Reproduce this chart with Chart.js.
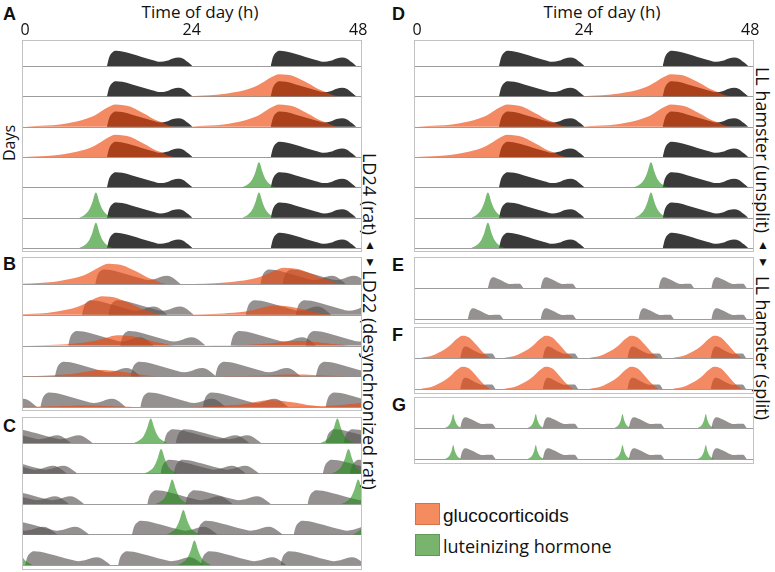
<!DOCTYPE html>
<html lang="en">
<head>
<meta charset="UTF-8">
<title>Actograms: activity, glucocorticoids and LH</title>
<script src="https://cdn.jsdelivr.net/npm/chart.js"></script>
<style>
  body { margin: 0; background: #fff; width: 775px; height: 572px; position: relative; overflow: hidden; font-family: "Open Sans", sans-serif; color: #111; }
  canvas { position: absolute; }
  .letter { position: absolute; font: bold 18px "Liberation Sans", Arial, sans-serif; line-height: 1; }
  .txt { position: absolute; font-size: 17px; line-height: 1; white-space: nowrap; transform: translate(-50%, -50%); }
  .rot { position: absolute; font-size: 18px; line-height: 1; white-space: nowrap; transform: translate(-50%, -50%) rotate(90deg); }
  .rotl { position: absolute; font-size: 16px; line-height: 1; white-space: nowrap; transform: translate(-50%, -50%) rotate(-90deg); }
  .tri { position: absolute; font-size: 12px; line-height: 1; transform: translate(-50%, -50%); }
  .sw { position: absolute; width: 23px; height: 20px; }
  .leg { position: absolute; font-size: 18px; line-height: 1; white-space: nowrap; transform: translateY(-50%); }
</style>
</head>
<body>
<div class="letter" style="left:3px;top:5px">A</div>
<div class="letter" style="left:3px;top:255px">B</div>
<div class="letter" style="left:3px;top:417px">C</div>
<div class="letter" style="left:392px;top:5px">D</div>
<div class="letter" style="left:392px;top:256px">E</div>
<div class="letter" style="left:392px;top:326px">F</div>
<div class="letter" style="left:392px;top:396px">G</div>

<div class="txt" style="left:200px;top:11px">Time of day (h)</div>
<div class="txt" style="left:602px;top:11px">Time of day (h)</div>
<div class="rotl" style="left:9px;top:143px">Days</div>

<div class="rot" style="left:370px;top:194px">LD24 (rat)</div>
<div class="tri" style="left:370px;top:245px">▲</div>
<div class="tri" style="left:370px;top:262px">▼</div>
<div class="rot" style="left:370px;top:380px">LD22 (desynchronized rat)</div>

<div class="rot" style="left:763px;top:150px">LL hamster (unsplit)</div>
<div class="tri" style="left:763px;top:245px">▲</div>
<div class="tri" style="left:763px;top:262px">▼</div>
<div class="rot" style="left:763px;top:348px">LL hamster (split)</div>

<div class="sw" style="left:415px;top:503px;background:#f58c60;border:1px solid #d0734d"></div>
<div class="leg" style="left:443px;top:515px;font-family:'Liberation Sans',Arial,sans-serif;font-size:19px">glucocorticoids</div>
<div class="sw" style="left:415px;top:534px;background:#79b46e;border:1px solid #5e9a55"></div>
<div class="leg" style="left:443px;top:546px">luteinizing hormone</div>

<script>
// time axis in hours (double-plotted, 48 h per row)
const hourMin = -0.45, hourMax = 48.55;
const tickHours = [0, 24, 48];

// curve templates: hours from onset/peak, height as a fraction of one row
const actHrs = [0, 0.3, 0.8, 1.3, 2.2, 3.5, 5.0, 6.5, 7.7, 8.6, 9.5, 10.3, 11.0, 11.7, 12.3];
const actLvl = [0, 0.28, 0.45, 0.5, 0.48, 0.40, 0.30, 0.20, 0.14, 0.17, 0.25, 0.28, 0.24, 0.12, 0];
const gcHrs = [-13, -10, -8, -6.5, -5, -3.6, -2.5, -1.2, 0, 1.2, 2.2, 3.5, 4.6, 5.5, 6.5, 7.5, 8.4];
const gcLvl = [0, 0.05, 0.1, 0.18, 0.28, 0.42, 0.6, 0.85, 1, 0.97, 0.9, 0.7, 0.52, 0.35, 0.22, 0.08, 0];
const lhHrs = [-2.4, -1.6, -1.0, -0.5, -0.15, 0, 0.15, 0.5, 1.0, 1.6, 2.4];
const lhLvl = [0, 0.12, 0.3, 0.62, 0.95, 1, 0.95, 0.62, 0.3, 0.12, 0];
// split hamster: short bouts
const splitActHrs = [0, 0.3, 0.8, 1.6, 2.5, 3.2, 3.8, 4.6, 5.1];
const splitActLvl = [0, 0.25, 0.35, 0.28, 0.18, 0.13, 0.14, 0.14, 0];
const splitGcHrs = [-6, -4, -2, -0.8, 0, 1, 2, 3, 4];
const splitGcLvl = [0, 0.15, 0.5, 0.85, 1, 0.92, 0.6, 0.25, 0];
const splitLhHrs = [-1.2, -0.6, -0.25, 0, 0.25, 0.6, 1.2];
const splitLhLvl = [0, 0.2, 0.55, 1, 0.55, 0.2, 0];

// A and D: LD24 rat / unsplit LL hamster (one list per day, top to bottom)
const unsplitAct = [[11.8, 35.4], [11.8, 35.4], [11.8, 35.4], [11.8, 35.4], [11.8, 35.4], [11.8, 35.4], [11.8, 35.4]];
const unsplitGc = [[], [36.6], [13.0, 36.6], [13.0], [], [], []];
const unsplitLh = [[], [], [], [], [33.7], [10.2, 33.7], [10.2]];
const unsplitGcAmp = 0.73, unsplitLhAmp = 0.83;

// B: LD22 desynchronized rat, glucocorticoids
const desyncAct = [[10.1, 33.9, 37.1], [8.2, 12.0, 31.8, 39.0], [6.2, 13.7, 29.6, 40.4], [4.3, 15.2, 27.4, 41.9], [-10.6, 2.2, 16.6, 25.6, 43.3]];
const desyncGc = [[12.0, 37.3], [11.1, 35.8], [13.3, 38.7], [10.6, 38.0], [8.0, 35.0, 51.0]];
const desyncGcAmp = [[0.66, 0.53], [0.6, 0.3], [0.33, 0.15], [0.2, 0.06], [0.05, 0.22, 0.25]];

// C: LD22 desynchronized rat, LH
const desyncLhAct = [[-5.7, -2.6, 20.0, 21.7, 43.3, 45.9], [-6.3, -4.8, 19.5, 21.4, 42.9, 46.8], [-6.0, -3.8, 17.6, 23.1, 40.7], [-7.7, -3.1, 15.4, 24.8, 38.7], [0.0, 13.4, 25.3, 36.8]];
const desyncLh = [[18.1, 45.0], [19.6, 46.6], [21.2, 48.0], [22.8, 49.6], [-1.3, 24.4]];

// E, F, G: split LL hamster
const splitAct = [[10.2, 17.8, 34.8, 42.4], [7.3, 17.8, 31.9, 42.4]];
const splitGcAct = [[6.2, 18.1, 30.3, 42.3], [6.2, 18.1, 30.3, 42.3]];
const splitGc = [[6.5, 18.5, 30.8, 42.8], [6.5, 18.5, 30.8, 42.8]];
const splitLhAct = [[6.2, 18.1, 30.5, 42.4], [6.2, 18.1, 30.5, 42.4]];
const splitLh = [[5.2, 17.1, 29.6, 41.6], [5.2, 17.1, 29.6, 41.6]];

const DARK = '#3a3a3a';
const GREY = 'rgba(90,84,84,0.645)';
const ORANGE = 'rgba(238,70,10,0.63)';
const GREEN = 'rgba(30,140,20,0.6)';

// one filled dataset per bout/peak, sitting on its day's baseline
function curves(rowLists, hrs, lvl, amp, color, order) {
  const n = rowLists.length, out = [];
  rowLists.forEach((list, r) => {
    const base = n - 1 - r;
    list.forEach((at, k) => {
      const a = Array.isArray(amp) ? amp[r][k] : amp;
      out.push({
        data: hrs.map((h, i) => ({ x: at + h, y: base + lvl[i] * a })),
        fill: { value: base },
        backgroundColor: color,
        borderColor: 'rgba(0,0,0,0)',
        borderWidth: 0,
        pointRadius: 0,
        cubicInterpolationMode: 'monotone',
        order: order
      });
    });
  });
  return out;
}

const rowFrame = {
  id: 'rowFrame',
  beforeDatasetsDraw(chart, args, o) {
    const { ctx, chartArea: a, scales: { y } } = chart;
    ctx.save();
    ctx.strokeStyle = '#9c9c9c';
    ctx.lineWidth = 1;
    for (let b = 0; b < o.rows; b++) {
      const py = Math.round(y.getPixelForValue(b)) + 0.5;
      ctx.beginPath(); ctx.moveTo(a.left, py); ctx.lineTo(a.right, py); ctx.stroke();
    }
    ctx.restore();
  },
  afterDraw(chart, args, o) {
    const { ctx, chartArea: a, scales: { x } } = chart;
    ctx.save();
    ctx.strokeStyle = '#c2c2c2';
    ctx.lineWidth = 1;
    ctx.strokeRect(a.left + 0.5, a.top + 0.5, a.width - 1, a.height - 1);
    if (o.ticks) {
      ctx.fillStyle = '#111';
      ctx.font = '16px "Open Sans"';
      ctx.textAlign = 'center';
      ctx.textBaseline = 'middle';
      tickHours.forEach(t => ctx.fillText(String(t), x.getPixelForValue(t), a.top - 10));
    }
    ctx.restore();
  }
};

function makePanel(p) {
  const c = document.createElement('canvas');
  c.width = p.w; c.height = p.h;
  c.style.left = p.left + 'px'; c.style.top = p.top + 'px';
  document.body.appendChild(c);
  new Chart(c.getContext('2d'), {
    type: 'line',
    data: { datasets: p.datasets },
    options: {
      responsive: false,
      animation: false,
      events: [],
      layout: { padding: p.pad || 0 },
      scales: {
        x: { type: 'linear', min: hourMin, max: hourMax, display: false },
        y: { type: 'linear', min: p.yMin, max: p.yMax, display: false }
      },
      plugins: {
        legend: { display: false },
        tooltip: { enabled: false },
        rowFrame: { rows: p.rows, ticks: !!p.ticks }
      }
    },
    plugins: [rowFrame]
  });
}

const unsplitSets = () => [
  ...curves(unsplitAct, actHrs, actLvl, 1, DARK, 3),
  ...curves(unsplitGc, gcHrs, gcLvl, unsplitGcAmp, ORANGE, 2),
  ...curves(unsplitLh, lhHrs, lhLvl, unsplitLhAmp, GREEN, 1)
];

makePanel({ left: 0, top: 0, w: 390, h: 252, pad: { left: 22, top: 40, right: 28, bottom: 0 },
  yMin: -0.132, yMax: 6.857, rows: 7, ticks: true, datasets: unsplitSets() });
makePanel({ left: 22, top: 257, w: 340, h: 154, yMin: -0.13, yMax: 4.878, rows: 5,
  datasets: [...curves(desyncAct, actHrs, actLvl, 0.95, GREY, 3), ...curves(desyncGc, gcHrs, gcLvl, desyncGcAmp, ORANGE, 2)] });
makePanel({ left: 22, top: 417, w: 340, h: 153, yMin: -0.164, yMax: 4.852, rows: 5,
  datasets: [...curves(desyncLhAct, actHrs, actLvl, 0.9, GREY, 3), ...curves(desyncLh, lhHrs, lhLvl, 0.8, GREEN, 1)] });

makePanel({ left: 392, top: 0, w: 383, h: 252, pad: { left: 22, top: 40, right: 21, bottom: 0 },
  yMin: -0.132, yMax: 6.857, rows: 7, ticks: true, datasets: unsplitSets() });
makePanel({ left: 414, top: 257, w: 340, h: 67, yMin: -0.16, yMax: 2.0, rows: 2,
  datasets: curves(splitAct, splitActHrs, splitActLvl, 1, GREY, 3) });
makePanel({ left: 414, top: 327, w: 340, h: 67, yMin: -0.16, yMax: 2.0, rows: 2,
  datasets: [...curves(splitGcAct, splitActHrs, splitActLvl, 1.05, GREY, 3), ...curves(splitGc, splitGcHrs, splitGcLvl, 0.72, ORANGE, 2)] });
makePanel({ left: 414, top: 397, w: 340, h: 67, yMin: -0.16, yMax: 2.0, rows: 2,
  datasets: [...curves(splitLhAct, splitActHrs, splitActLvl, 1, GREY, 3), ...curves(splitLh, splitLhHrs, splitLhLvl, 0.45, GREEN, 1)] });
</script>
</body>
</html>
